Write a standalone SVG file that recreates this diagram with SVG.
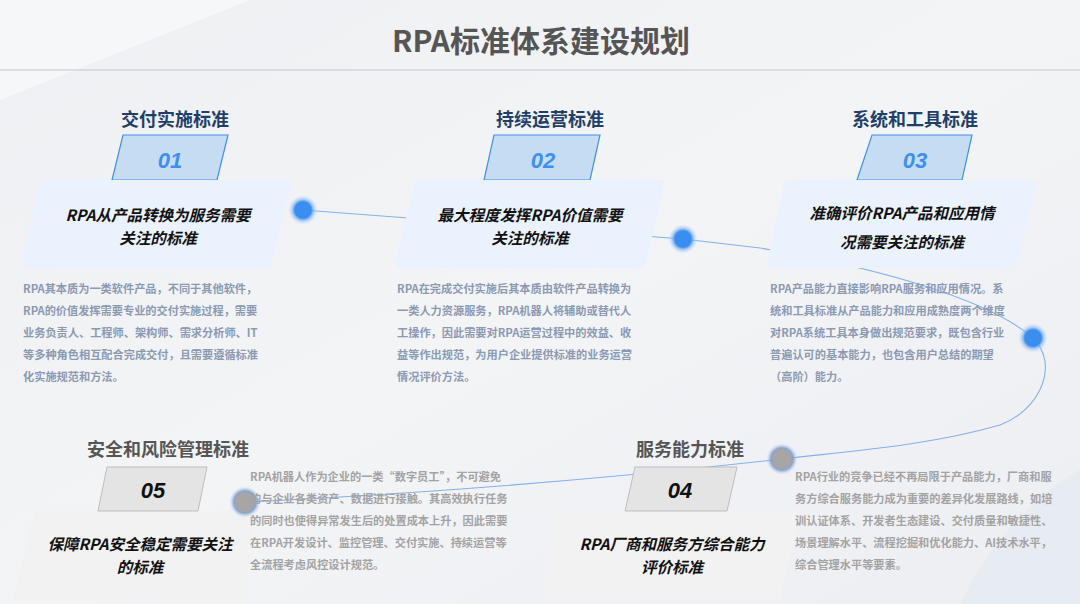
<svg xmlns="http://www.w3.org/2000/svg" width="1080" height="604" viewBox="0 0 1080 604">
<defs>
<linearGradient id="bg" x1="0" y1="0" x2="1" y2="1"><stop offset="0" stop-color="#eef0f3"/><stop offset="0.5" stop-color="#f3f4f6"/><stop offset="1" stop-color="#eceef2"/></linearGradient>
<radialGradient id="gb"><stop offset="0.55" stop-color="#3a8ef0"/><stop offset="0.7" stop-color="#7fb5f5" stop-opacity="0.7"/><stop offset="1" stop-color="#cfe2fb" stop-opacity="0"/></radialGradient>
<radialGradient id="gg"><stop offset="0.55" stop-color="#a9a5a5"/><stop offset="0.7" stop-color="#6f95c4" stop-opacity="0.8"/><stop offset="1" stop-color="#cfe2fb" stop-opacity="0"/></radialGradient>
<style>
.t{font-family:"Noto Sans CJK SC","Liberation Sans",sans-serif;font-weight:bold}
.h{font-size:18px;text-anchor:middle}
.hb{fill:#1f3f6a}.hg{fill:#555}
.nb{fill:#c6dcf3;stroke:#3d8ff0;stroke-width:1.2}
.ng{fill:#e4e4e4;stroke:#bdbdbd;stroke-width:1}
.num{font-family:"Liberation Sans",sans-serif;font-weight:bold;font-style:italic;font-size:22px;text-anchor:middle}
.bigb{fill:#eaf3fd}.bigg{fill:#f2f2f3}
.sub{font-size:15.5px;font-style:italic;text-anchor:middle;fill:#111}
.body{font-size:11.2px}
.bb{fill:#8a9ab3}.bgr{fill:#a3a3a3}
.con{fill:none;stroke:#7fb2ef;stroke-width:1.1}
</style>
</defs>
<rect width="1080" height="604" fill="url(#bg)"/>
<path d="M0,100 L250,0 L0,0Z" fill="#f6f7f9"/>
<path d="M960,604 C1000,520 1060,480 1080,470 L1080,604Z" fill="#e7ecf3"/>
<text class="t" x="541" y="52" font-size="30" text-anchor="middle" fill="#555">RPA标准体系建设规划</text>
<line x1="0" y1="70" x2="1080" y2="70" stroke="#c3c7ce" stroke-width="1.2"/>
<g id="connectors">
<path class="con" d="M303,210 L683,239 L760,248 C880,268 990,300 1033,338 C1060,365 1040,410 1000,425 C930,445 860,450 782,459 C600,480 400,495 245,502"/>
</g>
<g id="node1">
<text class="t h hb" x="175" y="126">交付实施标准</text>
<polygon class="nb" points="123,135 228,135 217,180 112,180"/>
<text class="num" x="170" y="168" fill="#3d8ff0">01</text>
<polygon class="bigb" points="40,180 292,180 270,268 21,268"/>
<text class="t sub" x="158" y="221">RPA从产品转换为服务需要</text>
<text class="t sub" x="158" y="244">关注的标准</text>
<text class="t body bb"><tspan x="23" y="293">RPA其本质为一类软件产品，不同于其他软件，</tspan><tspan x="23" y="315">RPA的价值发挥需要专业的交付实施过程，需要</tspan><tspan x="23" y="337">业务负责人、工程师、架构师、需求分析师、IT</tspan><tspan x="23" y="359">等多种角色相互配合完成交付，且需要遵循标准</tspan><tspan x="23" y="381">化实施规范和方法。</tspan></text>
<circle cx="303" cy="210" r="15" fill="url(#gb)"/>
</g>
<g id="node2">
<text class="t h hb" x="550" y="126">持续运营标准</text>
<polygon class="nb" points="494,135 600,135 590,180 484,180"/>
<text class="num" x="543" y="168" fill="#3d8ff0">02</text>
<polygon class="bigb" points="415,180 665,180 645,268 394,268"/>
<text class="t sub" x="530" y="221">最大程度发挥RPA价值需要</text>
<text class="t sub" x="530" y="244">关注的标准</text>
<text class="t body bb"><tspan x="397" y="293">RPA在完成交付实施后其本质由软件产品转换为</tspan><tspan x="397" y="315">一类人力资源服务，RPA机器人将辅助或替代人</tspan><tspan x="397" y="337">工操作，因此需要对RPA运营过程中的效益、收</tspan><tspan x="397" y="359">益等作出规范，为用户企业提供标准的业务运营</tspan><tspan x="397" y="381">情况评价方法。</tspan></text>
<circle cx="683" cy="239" r="15" fill="url(#gb)"/>
</g>
<g id="node3">
<text class="t h hb" x="915" y="126">系统和工具标准</text>
<polygon class="nb" points="872,135 972,135 962,180 857,180"/>
<text class="num" x="915" y="168" fill="#3d8ff0">03</text>
<polygon class="bigb" points="785,180 1037,180 1017,268 766,268"/>
<text class="t sub" x="902" y="219">准确评价RPA产品和应用情</text>
<text class="t sub" x="902" y="248">况需要关注的标准</text>
<text class="t body bb"><tspan x="770" y="293">RPA产品能力直接影响RPA服务和应用情况。系</tspan><tspan x="770" y="315">统和工具标准从产品能力和应用成熟度两个维度</tspan><tspan x="770" y="337">对RPA系统工具本身做出规范要求，既包含行业</tspan><tspan x="770" y="359">普遍认可的基本能力，也包含用户总结的期望</tspan><tspan x="770" y="381">（高阶）能力。</tspan></text>
<circle cx="1033" cy="338" r="15" fill="url(#gb)"/>
</g>
<g id="node4">
<text class="t h hg" x="690" y="456">服务能力标准</text>
<polygon class="bigg" points="555,511 800,511 780,600 545,600"/>
<polygon class="ng" points="635,467 737,467 727,511 625,511"/>
<text class="num" x="680" y="498" fill="#111">04</text>
<text class="t sub" x="672" y="550">RPA厂商和服务方综合能力</text>
<text class="t sub" x="672" y="573">评价标准</text>
<text class="t body bgr"><tspan x="795" y="481">RPA行业的竞争已经不再局限于产品能力，厂商和服</tspan><tspan x="795" y="503">务方综合服务能力成为重要的差异化发展路线，如培</tspan><tspan x="795" y="525">训认证体系、开发者生态建设、交付质量和敏捷性、</tspan><tspan x="795" y="547">场景理解水平、流程挖掘和优化能力、AI技术水平，</tspan><tspan x="795" y="569">综合管理水平等要素。</tspan></text>
<circle cx="782" cy="459" r="16" fill="url(#gg)"/>
</g>
<g id="node5">
<text class="t h hg" x="168" y="456">安全和风险管理标准</text>
<polygon class="bigg" points="35,511 255,511 245,600 13,600"/>
<polygon class="ng" points="107,467 207,467 198,511 98,511"/>
<text class="num" x="153" y="498" fill="#111">05</text>
<text class="t sub" x="140" y="550">保障RPA安全稳定需要关注</text>
<text class="t sub" x="140" y="573">的标准</text>
<circle cx="245" cy="502" r="16" fill="url(#gg)"/>
<text class="t body bgr"><tspan x="250" y="481">RPA机器人作为企业的一类“数字员工”，不可避免</tspan><tspan x="250" y="503">的与企业各类资产、数据进行接触。其高效执行任务</tspan><tspan x="250" y="525">的同时也使得异常发生后的处置成本上升，因此需要</tspan><tspan x="250" y="547">在RPA开发设计、监控管理、交付实施、持续运营等</tspan><tspan x="250" y="569">全流程考虑风控设计规范。</tspan></text>
</g>
</svg>
